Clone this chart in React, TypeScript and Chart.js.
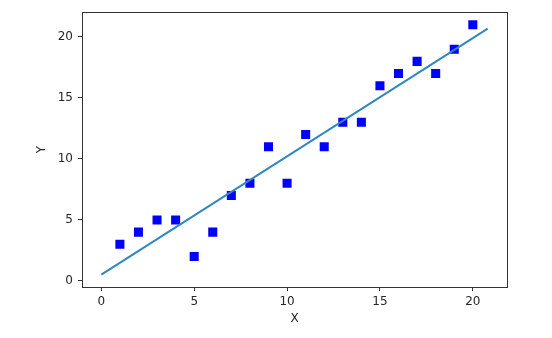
import React, { useEffect, useRef } from "react";
import { Chart, registerables } from "chart.js";

Chart.register(...registerables);

const xValues = [1, 2, 3, 4, 5, 6, 7, 8, 9, 10, 11, 12, 13, 14, 15, 16, 17, 18, 19, 20];
const yValues = [3, 4, 5, 5, 2, 4, 7, 8, 11, 8, 12, 11, 13, 13, 16, 17, 18, 17, 19, 21];
const fitX = [0, 20.8];
const fitY = [0.52, 20.69];
const xTicks = [0, 5, 10, 15, 20];
const yTicks = [0, 5, 10, 15, 20];
const xRange = [-1.04, 21.84];
const yRange = [-0.5, 22.03];

const TEXT = "#262626";
const SPINE = "#333333";

const boxPlugin = {
  id: "box",
  afterDraw(chart: any) {
    const { ctx, chartArea } = chart;
    ctx.save();
    ctx.strokeStyle = SPINE;
    ctx.lineWidth = 1;
    ctx.strokeRect(
      Math.round(chartArea.left) + 0.5,
      Math.round(chartArea.top) + 0.5,
      Math.round(chartArea.right - chartArea.left),
      Math.round(chartArea.bottom - chartArea.top)
    );
    ctx.restore();
  },
};

export default function App() {
  const ref = useRef<HTMLCanvasElement>(null);
  useEffect(() => {
    document.body.style.margin = "0";
    const canvas = ref.current!;
    const font = { family: "'DejaVu Sans', sans-serif", size: 12 };
    const chart = new Chart(canvas, {
      type: "scatter",
      data: {
        datasets: [
          {
            type: "line",
            data: fitX.map((x, i) => ({ x, y: fitY[i] })),
            borderColor: "#2f88c2",
            borderWidth: 2,
            pointRadius: 0,
            showLine: true,
            fill: false,
          } as any,
          {
            data: xValues.map((x, i) => ({ x, y: yValues[i] })),
            backgroundColor: "#0000ff",
            borderColor: "#0000ff",
            borderWidth: 0,
            pointStyle: "rect",
            pointRadius: 6.4,
          },
        ],
      },
      options: {
        animation: false,
        responsive: false,
        devicePixelRatio: 1,
        layout: { padding: { left: 0, top: 10, right: 45, bottom: 0 } },
        plugins: { legend: { display: false }, tooltip: { enabled: false } },
        scales: {
          x: {
            type: "linear",
            min: xRange[0],
            max: xRange[1],
            afterBuildTicks: (s: any) => {
              s.ticks = xTicks.map((v) => ({ value: v }));
            },
            afterFit: (s: any) => {
              s.height = 51;
            },
            grid: { drawOnChartArea: false, drawTicks: true, tickLength: 4, color: SPINE },
            border: { display: false },
            ticks: { color: TEXT, font, padding: 4, maxRotation: 0 },
            title: { display: true, text: "X", color: TEXT, font, padding: { top: 0, bottom: 12 } },
          },
          y: {
            type: "linear",
            min: yRange[0],
            max: yRange[1],
            afterBuildTicks: (s: any) => {
              s.ticks = yTicks.map((v) => ({ value: v }));
            },
            afterFit: (s: any) => {
              s.width = 82;
            },
            grid: { drawOnChartArea: false, drawTicks: true, tickLength: 4, color: SPINE },
            border: { display: false },
            ticks: { color: TEXT, font, padding: 5 },
            title: { display: true, text: "Y", color: TEXT, font, padding: { top: 35, bottom: 0 } },
          },
        },
      },
      plugins: [boxPlugin],
    });
    return () => chart.destroy();
  }, []);
  return <canvas ref={ref} width={552} height={338} style={{ display: "block", width: 552, height: 338 }} />;
}
